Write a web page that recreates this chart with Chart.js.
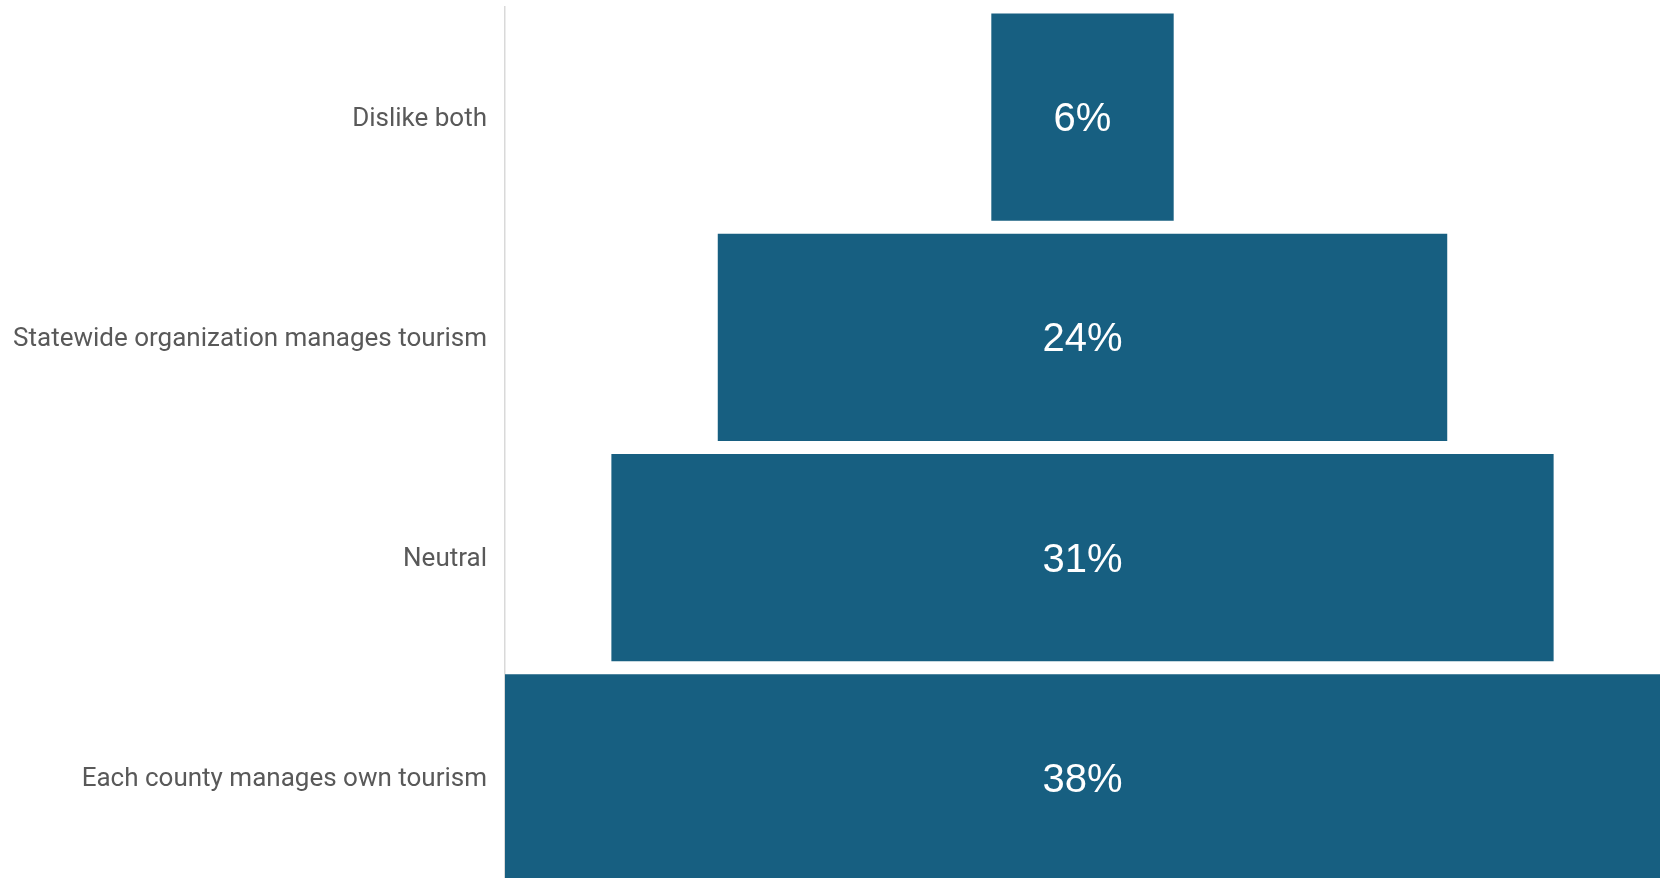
<!DOCTYPE html>
<html>
<head>
<meta charset="utf-8">
<script src="https://cdn.jsdelivr.net/npm/chart.js@4/dist/chart.umd.min.js"></script>
<style>
  html, body { margin: 0; padding: 0; background: #fff; overflow: hidden; }
  #wrap { width: 1663px; height: 888px; }
</style>
</head>
<body>
<div id="wrap"><canvas id="funnel" width="1663" height="888"></canvas></div>
<script>
const categories = [
  'Dislike both',
  'Statewide organization manages tourism',
  'Neutral',
  'Each county manages own tourism'
];
const shares = [6, 24, 31, 38];

const barColor = '#175f81';
const half = Math.max(...shares) / 2;

// centred bars make the funnel
const floating = shares.map(v => [-v / 2, v / 2]);

const barLabels = {
  id: 'barLabels',
  afterDatasetsDraw(chart) {
    const ctx = chart.ctx;
    const meta = chart.getDatasetMeta(0);
    ctx.save();
    ctx.fillStyle = '#ffffff';
    ctx.font = '40px "Liberation Sans", Arial, sans-serif';
    ctx.textAlign = 'center';
    ctx.textBaseline = 'middle';
    meta.data.forEach((bar, i) => {
      const c = bar.getCenterPoint();
      ctx.fillText(shares[i] + '%', c.x, c.y + 3);
    });
    ctx.restore();
  }
};

new Chart(document.getElementById('funnel'), {
  type: 'bar',
  data: {
    labels: categories,
    datasets: [{
      data: floating,
      backgroundColor: barColor,
      borderWidth: 0,
      barPercentage: 0.94,
      categoryPercentage: 1
    }]
  },
  options: {
    indexAxis: 'y',
    responsive: false,
    animation: false,
    layout: { padding: { top: 7, right: 3, left: 0, bottom: 0 } },
    plugins: {
      legend: { display: false },
      tooltip: { enabled: false }
    },
    scales: {
      x: {
        display: false,
        min: -half,
        max: half
      },
      y: {
        grid: { display: false },
        border: { color: '#d9d9d9', width: 1.5 },
        ticks: {
          color: '#595959',
          padding: 10,
          labelOffset: 2,
          font: { family: 'Roboto, sans-serif', size: 26 }
        },
        afterFit(scale) {
          scale.width = 505;
          scale.paddingTop = 0;
          scale.paddingBottom = 0;
        }
      }
    }
  },
  plugins: [barLabels]
});
</script>
</body>
</html>
